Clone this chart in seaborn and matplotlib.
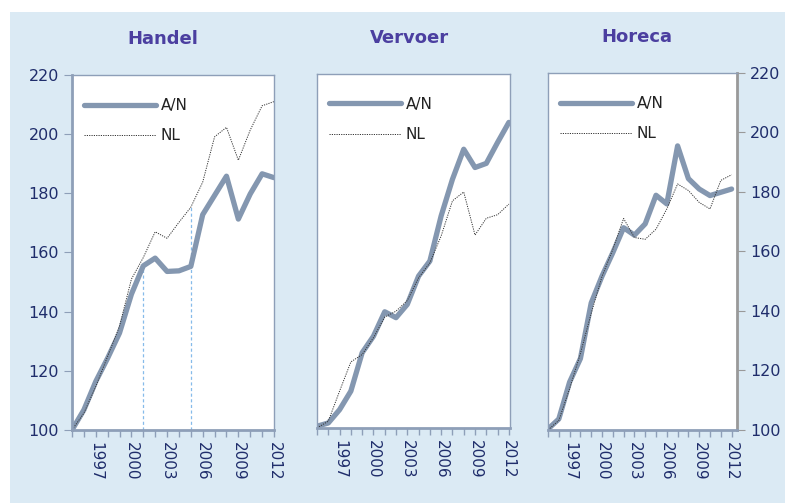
import pandas as pd
import matplotlib.pyplot as plt
import matplotlib.patches as mpatches
from matplotlib.ticker import MultipleLocator
import seaborn as sns

# Data (index 1995 = 100)
years = list(range(1995, 2013))
panels = ["Handel", "Vervoer", "Horeca"]

handel_an = [100, 106.8, 116.4, 124.3, 132.8, 145.9, 155.5, 158.1, 153.6, 153.8,
             155.3, 172.8, 179.3, 185.8, 171.3, 179.8, 186.6, 185.3]
handel_nl = [100, 105.7, 114.7, 124.9, 135.1, 151.0, 158.3, 167.0, 164.8, 170.2,
             175.3, 183.8, 199.1, 202.3, 191.2, 201.4, 209.6, 211.0]
vervoer_an = [100.6, 101.7, 106.2, 112.5, 125.5, 131.1, 139.4, 137.4, 141.9, 151.5,
              156.6, 171.9, 184.3, 194.5, 188.3, 189.7, 196.8, 203.6]
vervoer_nl = [100, 102.3, 112.5, 122.4, 124.9, 130.6, 137.6, 139.6, 143.2, 150.9,
              156.0, 165.1, 177.0, 180.0, 165.4, 171.1, 172.3, 175.9]
horeca_an = [100.3, 103.7, 116.1, 124.0, 142.7, 151.7, 159.6, 168.0, 165.5, 169.3,
             178.9, 176.0, 195.5, 184.5, 181.0, 178.8, 179.9, 181.0]
horeca_nl = [100, 103.2, 113.9, 125.7, 139.2, 151.6, 160.7, 171.1, 164.7, 164.1,
             167.5, 174.3, 182.7, 180.5, 176.5, 174.3, 183.9, 185.8]

# years of the dashed guide lines in Handel
handel_marks = [2001, 2005]

series = {
    "Handel": (handel_an, handel_nl),
    "Vervoer": (vervoer_an, vervoer_nl),
    "Horeca": (horeca_an, horeca_nl),
}

rows = []
for p in panels:
    an, nl = series[p]
    for y, a, n in zip(years, an, nl):
        rows.append({"panel": p, "year": y, "serie": "A/N", "value": a})
        rows.append({"panel": p, "year": y, "serie": "NL", "value": n})
df = pd.DataFrame(rows)

# Styling
sns.set_style("white")
plt.rcParams["font.family"] = ["DejaVu Sans"]

bg = "#DBEAF4"
navy = "#1F2D6B"
title_col = "#4B3FA0"
line_col = "#8497B0"
spine_col = "#8E9FB8"

fig = plt.figure(figsize=(7.85, 5.04), dpi=100)
fig.patch.set_facecolor("white")
fig.patches.append(mpatches.Rectangle((10 / 785, 1 / 504), 1 - 10 / 785, 491 / 504,
                                      transform=fig.transFigure, facecolor=bg,
                                      edgecolor="none", zorder=-10))

positions = [
    [72 / 785, 74 / 504, 202 / 785, 355 / 504],
    [317 / 785, 76 / 504, 193 / 785, 354 / 504],
    [548 / 785, 74 / 504, 189 / 785, 357 / 504],
]
xlims = [(1995, 2012), (1995, 2012.1), (1995, 2012.5)]
title_x = [0.45, 0.48, 0.47]

for i, p in enumerate(panels):
    ax = fig.add_axes(positions[i])
    ax.set_facecolor("white")
    sub = df[df["panel"] == p]
    sns.lineplot(data=sub[sub["serie"] == "A/N"], x="year", y="value", ax=ax,
                 color=line_col, linewidth=3.8, label="A/N", solid_capstyle="round")
    sns.lineplot(data=sub[sub["serie"] == "NL"], x="year", y="value", ax=ax,
                 color="#333333", linewidth=0.7, linestyle=(0, (1.2, 1.2)), label="NL")

    if p == "Handel":
        an, nl = series[p]
        tops = [an[years.index(handel_marks[0])], nl[years.index(handel_marks[1])]]
        for yr, top in zip(handel_marks, tops):
            ax.plot([yr, yr], [100, top], color="#86BBEA", linewidth=0.9,
                    linestyle=(0, (2.5, 2)), zorder=1)

    ax.set_xlim(*xlims[i])
    ax.set_ylim(100, 220)
    ax.set_title(p, fontsize=13, fontweight="bold", color=title_col, pad=22,
                 x=title_x[i])
    ax.set_xlabel("")
    ax.set_ylabel("")

    ax.set_xticks([1997, 2000, 2003, 2006, 2009, 2012])
    ax.set_xticklabels(["1997", "2000", "2003", "2006", "2009", "2012"],
                       rotation=-90, fontsize=11, color=navy)
    ax.xaxis.set_minor_locator(MultipleLocator(1))
    ax.tick_params(axis="x", which="both", bottom=True, direction="out",
                   length=5, width=1, color=spine_col, pad=4)

    ax.set_yticks(range(100, 221, 20))
    if i == 0:
        ax.tick_params(axis="y", left=True, right=False, labelleft=True,
                       direction="out", length=6, color=spine_col,
                       labelsize=11.5, labelcolor=navy)
    elif i == 2:
        ax.yaxis.tick_right()
        ax.tick_params(axis="y", left=False, right=True, labelright=True,
                       labelleft=False, direction="out", length=6, color="#999999",
                       labelsize=11.5, labelcolor=navy)
    else:
        ax.tick_params(axis="y", left=False, right=False, labelleft=False)

    for name, sp in ax.spines.items():
        sp.set_visible(True)
        sp.set_color(spine_col)
        sp.set_linewidth(1.0)
    ax.spines["bottom"].set_linewidth(2.0)
    if i == 0:
        ax.spines["left"].set_linewidth(2.0)
    if i == 2:
        ax.spines["right"].set_color("#999999")
        ax.spines["right"].set_linewidth(2.0)

    leg = ax.legend(loc="upper left", frameon=False, fontsize=11,
                    handlelength=4.7, labelspacing=1.0, handletextpad=0.3,
                    borderaxespad=0.4, bbox_to_anchor=(0.0, 0.97))
    for t in leg.get_texts():
        t.set_color("#222222")

plt.savefig("out.png", dpi=100, facecolor=fig.get_facecolor())
plt.close()
